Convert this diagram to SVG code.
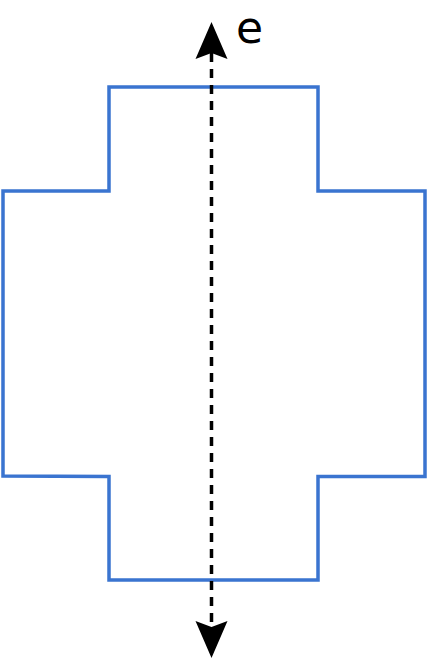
<svg xmlns="http://www.w3.org/2000/svg" width="428" height="659" viewBox="0 0 428 659">
  <style>
    .shape { fill: #ffffff; stroke: #3a74d0; stroke-width: 3.5; }
    .axis { fill: none; stroke: #000000; stroke-width: 3.5; stroke-dasharray: 9 7; }
    .label { font-family: "DejaVu Sans", sans-serif; font-size: 44px; fill: #000000; }
  </style>
  <defs>
    <marker id="arrow" markerUnits="userSpaceOnUse" markerWidth="40" markerHeight="34" viewBox="0 -17 40 34" refX="6" refY="0" orient="auto-start-reverse">
      <path d="M37,0 L0,-16 L6,0 L0,16 Z" fill="#000000"/>
    </marker>
  </defs>
  <g id="cross-shape">
    <path class="shape" d="M109,87 L318,87 L318,191 L425,191 L425,476.5 L318,476.5 L318,580 L109,580 L109,476.5 L3,476 L3,191 L109,191 Z"/>
  </g>
  <g id="connectors">
    <path class="axis" d="M211.5,53 L211.5,627" marker-start="url(#arrow)" marker-end="url(#arrow)"/>
  </g>
  <g id="label-e">
    <text class="label" x="236" y="43">e</text>
  </g>
</svg>
